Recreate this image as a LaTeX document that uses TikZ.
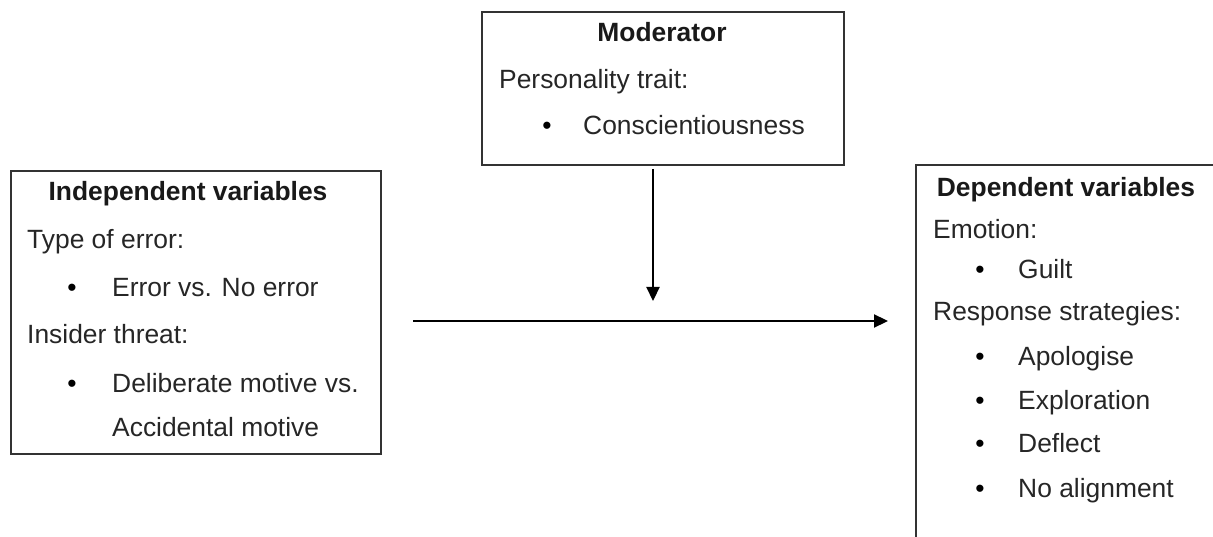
\documentclass[tikz,border=0pt]{standalone}
\usepackage{fontspec}
\setmainfont{Liberation Sans}
\usetikzlibrary{arrows.meta}
\begin{document}
\begin{tikzpicture}[x=1pt,y=-1pt,
  box/.style={draw=black!80,line width=1.6pt,rectangle,inner sep=0pt,anchor=north west},
  txt/.style={inner sep=0pt,anchor=base west,font=\fontsize{26.4}{30}\selectfont,text=black!85},
  ttl/.style={inner sep=0pt,anchor=base,font=\fontsize{26.4}{30}\selectfont\bfseries,text=black!90},
  bul/.style={inner sep=0pt,anchor=base,font=\fontsize{26.4}{30}\selectfont,text=black},
  conn/.style={line width=2.2pt,draw=black,-{Triangle[length=14pt,width=13pt]}}]
\useasboundingbox (0,0) rectangle (1213,537);
\clip (0,0) rectangle (1213,537);
% boxes
\node[box,minimum width=362pt,minimum height=153pt] (mod) at (481,11) {};
\node[box,minimum width=370pt,minimum height=283pt] (ind) at (10,170) {};
\node[box,minimum width=320pt,minimum height=400pt] (dep) at (915,164) {};
% moderator text
\node[ttl] (modt) at (662,42) {Moderator};
\node[txt] (mod1) at (499,89) {Personality trait:};
\node[bul] (modb) at (547,135) {•};
\node[txt] (mod2) at (583,135) {Conscientiousness};
% independent
\node[ttl] (indt) at (188,201) {Independent variables};
\node[txt] (ind1) at (27,249) {Type of error:};
\node[bul] (indb1) at (72,297) {•};
\node[txt] (ind2) at (112,297) {Error vs. No error};
\node[txt] (ind3) at (27,344) {Insider threat:};
\node[bul] (indb2) at (72,392) {•};
\node[txt] (ind4) at (112,392) {Deliberate motive vs.};
\node[txt] (ind5) at (112,436) {Accidental motive};
% dependent
\node[ttl] (dept) at (1066,197) {Dependent variables};
\node[txt] (dep1) at (933,239) {Emotion:};
\node[bul] (depb1) at (980,279) {•};
\node[txt] (dep2) at (1018,279) {Guilt};
\node[txt] (dep3) at (933,321) {Response strategies:};
\node[bul] (depb2) at (980,366) {•};
\node[txt] (dep4) at (1018,366) {Apologise};
\node[bul] (depb3) at (980,409) {•};
\node[txt] (dep5) at (1018,409) {Exploration};
\node[bul] (depb4) at (980,452) {•};
\node[txt] (dep6) at (1018,452) {Deflect};
\node[bul] (depb5) at (980,497) {•};
\node[txt] (dep7) at (1018,497) {No alignment};
% connectors
\coordinate (vs) at (653,169);
\coordinate (ve) at (653,301);
\coordinate (hs) at (413,321);
\coordinate (he) at (888,321);
\draw[conn] (vs) -- (ve);
\draw[conn] (hs) -- (he);
\end{tikzpicture}
\end{document}
